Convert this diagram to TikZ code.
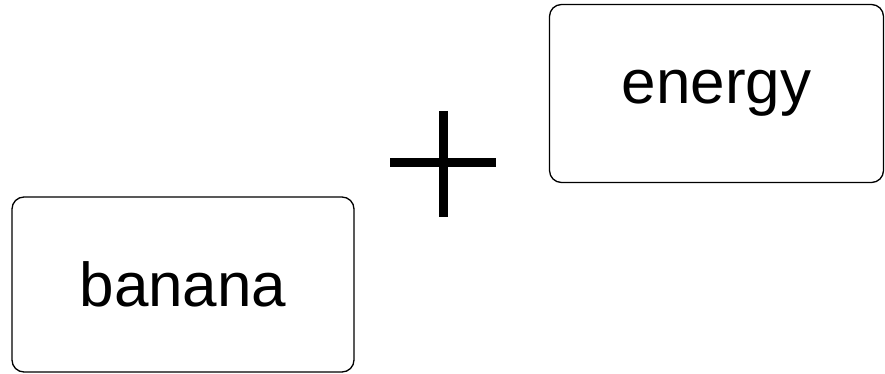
\documentclass[tikz,border=0pt]{standalone}
\usepackage{fontspec}
\setmainfont{Liberation Sans}
\usepackage{tikz}
\usetikzlibrary{positioning}
\tikzset{
    wordbox/.style={rectangle, draw, line width=1.3pt, rounded corners=12pt, font=\fontsize{62}{70}\selectfont, inner sep=0pt},
    plusbar/.style={line width=9pt},
}

\begin{document}
\begin{tikzpicture}[x=1pt, y=-1pt]
    \useasboundingbox (0,0) rectangle (885,374);
    \node[wordbox, minimum width=342pt, minimum height=175pt] (banana) at (183,284.5) {banana};
    \node[wordbox, minimum width=334pt, minimum height=178pt] (energy) at (716.5,93.5) {energy};
    \draw[plusbar] (390,163) -- (496,163);
    \draw[plusbar] (443,111) -- (443,217);
\end{tikzpicture}
\end{document}
